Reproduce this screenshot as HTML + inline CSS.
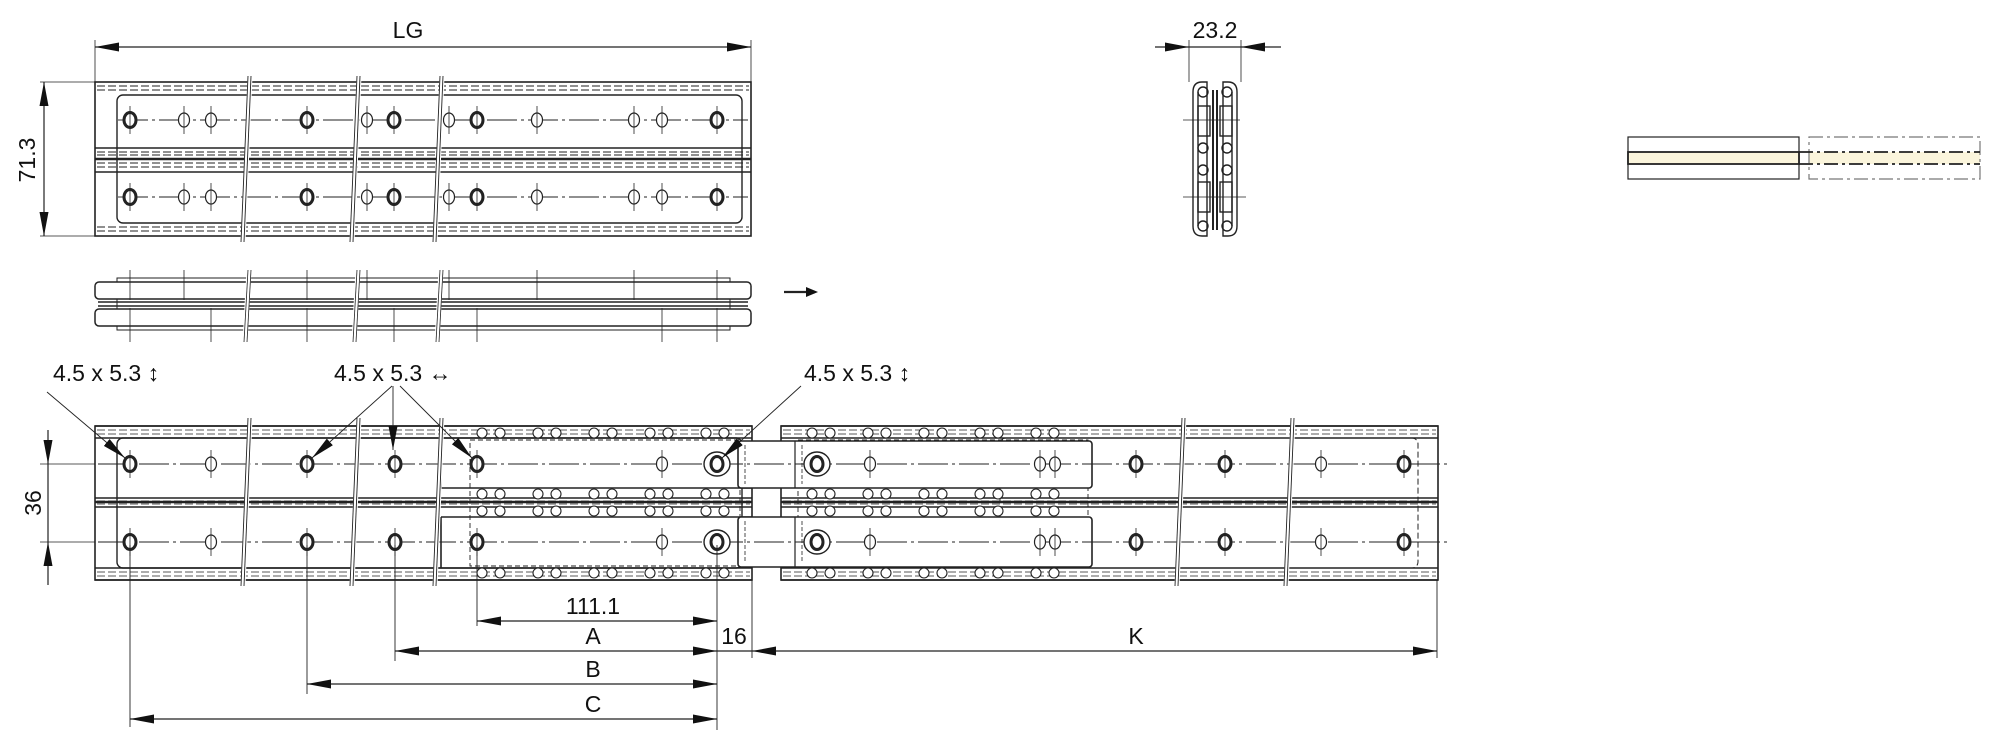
<!DOCTYPE html>
<html><head><meta charset="utf-8">
<style>
html,body{margin:0;padding:0;background:#fff;}
svg{display:block;}
text{font-family:"Liberation Sans",sans-serif;fill:#111;}
</style></head>
<body>
<svg id="s" width="2000" height="750" viewBox="0 0 2000 750" xmlns="http://www.w3.org/2000/svg" stroke="#222" fill="none" stroke-width="1.2">
<defs>
<marker id="ar" viewBox="0 0 24 9" refX="24" refY="4.5" markerWidth="24" markerHeight="9" markerUnits="userSpaceOnUse" orient="auto-start-reverse"><path d="M0,0 L24,4.5 L0,9 z" fill="#111" stroke="none"/></marker>
</defs>

<!-- ===== TOP VIEW ===== -->
<line x1="95" y1="47" x2="751" y2="47" marker-start="url(#ar)" marker-end="url(#ar)"/>
<line x1="95" y1="40" x2="95" y2="82" stroke-width="0.8"/>
<line x1="751" y1="40" x2="751" y2="82" stroke-width="0.8"/>
<text x="408" y="38" font-size="23" text-anchor="middle" stroke="none">LG</text>

<line x1="44" y1="82" x2="44" y2="236" marker-start="url(#ar)" marker-end="url(#ar)"/>
<line x1="40" y1="82" x2="95" y2="82" stroke-width="0.8"/>
<line x1="40" y1="236" x2="95" y2="236" stroke-width="0.8"/>
<text x="0" y="0" font-size="23" text-anchor="middle" stroke="none" transform="translate(35,160) rotate(-90)">71.3</text>

<g id="top">
<rect x="95" y="82" width="656" height="154" stroke-width="1.6"/>
<rect x="117" y="95" width="625" height="128" rx="6" stroke-width="1.4"/>
<line x1="95" y1="148" x2="751" y2="148" stroke-width="1.6"/>
<line x1="95" y1="172" x2="751" y2="172" stroke-width="1.6"/>
<line x1="95" y1="159" x2="751" y2="159" stroke-width="2.5"/>
<g stroke-dasharray="8,3" stroke-width="0.9">
<line x1="97" y1="86" x2="749" y2="86"/><line x1="97" y1="90" x2="749" y2="90"/>
<line x1="97" y1="152" x2="749" y2="152"/><line x1="97" y1="155" x2="749" y2="155"/>
<line x1="97" y1="163" x2="749" y2="163"/><line x1="97" y1="167" x2="749" y2="167"/>
<line x1="97" y1="227" x2="749" y2="227"/><line x1="97" y1="231" x2="749" y2="231"/>
</g>
<g stroke-dasharray="30,4,3,4" stroke-width="0.9">
<line x1="118" y1="120" x2="748" y2="120"/><line x1="118" y1="197" x2="748" y2="197"/>
</g>
</g>
<g id="tholes"></g>

<!-- side view -->
<g>
<rect x="117" y="278" width="613" height="52" stroke-width="1"/>
<rect x="95" y="282" width="656" height="17" rx="4" stroke-width="1.5" fill="#fff"/>
<rect x="95" y="309" width="656" height="17" rx="4" stroke-width="1.5" fill="#fff"/>
<line x1="98" y1="302" x2="748" y2="302" stroke-width="1.5"/>
<line x1="98" y1="306" x2="748" y2="306" stroke-width="1.5"/>
</g>
<g id="sticks" stroke-width="0.8"></g>
<line x1="784" y1="292" x2="815" y2="292" stroke-width="2.2"/>
<path d="M806,287 L818,292 L806,297z" fill="#111" stroke="none"/>

<!-- cross section -->
<line x1="1155" y1="47" x2="1189" y2="47" marker-end="url(#ar)"/>
<line x1="1281" y1="47" x2="1241" y2="47" marker-end="url(#ar)"/>
<line x1="1189" y1="47" x2="1241" y2="47"/>
<line x1="1189" y1="40" x2="1189" y2="82" stroke-width="0.8"/>
<line x1="1241" y1="40" x2="1241" y2="82" stroke-width="0.8"/>
<text x="1215" y="38" font-size="23" text-anchor="middle" stroke="none">23.2</text>
<g stroke-width="1.4">
<path d="M1193,92 Q1193,82 1202,82 L1207,82 L1207,236 L1202,236 Q1193,236 1193,226 Z"/>
<path d="M1237,92 Q1237,82 1228,82 L1223,82 L1223,236 L1228,236 Q1237,236 1237,226 Z"/>
<path d="M1198,92 L1198,226 M1232,92 L1232,226"/>
<line x1="1213" y1="90" x2="1213" y2="230" stroke-width="2"/>
<line x1="1217" y1="90" x2="1217" y2="230" stroke-width="2"/>
<circle cx="1203" cy="92" r="5"/><circle cx="1227" cy="92" r="5"/>
<circle cx="1203" cy="148" r="5"/><circle cx="1227" cy="148" r="5"/>
<circle cx="1203" cy="170" r="5"/><circle cx="1227" cy="170" r="5"/>
<circle cx="1203" cy="226" r="5"/><circle cx="1227" cy="226" r="5"/>
<rect x="1198" y="106" width="12" height="30"/><rect x="1220" y="106" width="12" height="30"/>
<rect x="1198" y="182" width="12" height="30"/><rect x="1220" y="182" width="12" height="30"/>
</g>
<line x1="1183" y1="120" x2="1240" y2="120" stroke-width="0.8"/>
<line x1="1183" y1="197" x2="1246" y2="197" stroke-width="0.8"/>

<!-- swatch -->
<rect x="1628" y="137" width="171" height="42" stroke-width="1.2"/>
<rect x="1628" y="152" width="171" height="12" fill="#fbf5dc" stroke-width="1.8"/>
<rect x="1809" y="152" width="171" height="12" fill="#fbf5dc" stroke="none"/>
<g stroke-dasharray="14,4,3,4" stroke-width="1.2">
<rect x="1809" y="137" width="171" height="42" stroke="#777"/>
<line x1="1799" y1="152" x2="1980" y2="152" stroke-width="1.8"/>
<line x1="1799" y1="164" x2="1980" y2="164" stroke-width="1.8"/>
</g>

<!-- ===== BOTTOM VIEW ===== -->
<g id="bot"></g>

<!-- labels -->
<text x="53" y="381" font-size="23" stroke="none">4.5 x 5.3 ↕</text>
<text x="334" y="381" font-size="23" stroke="none">4.5 x 5.3 ↔</text>
<text x="804" y="381" font-size="23" stroke="none">4.5 x 5.3 ↕</text>
<g stroke-width="0.9">
<line x1="47" y1="392" x2="125" y2="458" marker-end="url(#ar)"/>
<line x1="392" y1="386" x2="312" y2="458" marker-end="url(#ar)"/>
<line x1="393" y1="386" x2="393" y2="450" marker-end="url(#ar)"/>
<line x1="400" y1="386" x2="472" y2="458" marker-end="url(#ar)"/>
<line x1="801" y1="386" x2="722" y2="458" marker-end="url(#ar)"/>
</g>

<!-- dims -->
<line x1="48" y1="430" x2="48" y2="464" marker-end="url(#ar)"/>
<line x1="48" y1="585" x2="48" y2="542" marker-end="url(#ar)"/>
<line x1="48" y1="464" x2="48" y2="542"/>
<line x1="40" y1="464" x2="95" y2="464" stroke-width="0.8"/>
<line x1="40" y1="542" x2="95" y2="542" stroke-width="0.8"/>
<text font-size="23" text-anchor="middle" stroke="none" transform="translate(41,503) rotate(-90)">36</text>

<g stroke-width="0.9">
<line x1="130" y1="545" x2="130" y2="727"/>
<line x1="307" y1="545" x2="307" y2="694"/>
<line x1="395" y1="545" x2="395" y2="661"/>
<line x1="477" y1="545" x2="477" y2="626"/>
<line x1="717" y1="545" x2="717" y2="730"/>
<line x1="752" y1="580" x2="752" y2="658"/>
<line x1="1437" y1="580" x2="1437" y2="658"/>
</g>
<line x1="477" y1="621" x2="717" y2="621" marker-start="url(#ar)" marker-end="url(#ar)"/>
<line x1="395" y1="651" x2="717" y2="651" marker-start="url(#ar)" marker-end="url(#ar)"/>
<line x1="717" y1="651" x2="752" y2="651"/>
<line x1="752" y1="651" x2="1437" y2="651" marker-start="url(#ar)" marker-end="url(#ar)"/>
<line x1="307" y1="684" x2="717" y2="684" marker-start="url(#ar)" marker-end="url(#ar)"/>
<line x1="130" y1="719" x2="717" y2="719" marker-start="url(#ar)" marker-end="url(#ar)"/>
<g font-size="23" text-anchor="middle" stroke="none">
<text x="593" y="614" stroke="none">111.1</text>
<text x="593" y="644" stroke="none">A</text>
<text x="734" y="644" stroke="none">16</text>
<text x="1136" y="644" stroke="none">K</text>
<text x="593" y="677" stroke="none">B</text>
<text x="593" y="712" stroke="none">C</text>
</g>
</svg>
<script>
var NS="http://www.w3.org/2000/svg";
function el(p,t,a){var e=document.createElementNS(NS,t);for(var k in a)e.setAttribute(k,a[k]);p.appendChild(e);return e;}
var th=document.getElementById('tholes');
var hx=[[130,1],[184,0],[211,0],[307,1],[367,0],[394,1],[449,0],[477,1],[537,0],[634,0],[662,0],[717,1]];
[120,197].forEach(function(y){hx.forEach(function(h){
 el(th,'ellipse',{cx:h[0],cy:y,rx:h[1]?6:5.5,ry:h[1]?7.5:7,'stroke-width':h[1]?3:1.2,fill:'#fff'});
 el(th,'line',{x1:h[0],y1:y-14,x2:h[0],y2:y+14,'stroke-width':0.8});
});});
[248,357,440].forEach(function(x){
 el(th,'line',{x1:x+2,y1:76,x2:x-5,y2:242,stroke:'#fff','stroke-width':5});
 el(th,'line',{x1:x,y1:76,x2:x-7,y2:242,'stroke-width':0.9});
 el(th,'line',{x1:x+3,y1:76,x2:x-4,y2:242,'stroke-width':0.9});
});
var st=document.getElementById('sticks');
[130,184,307,367,449,537,634,717].forEach(function(x){el(st,'line',{x1:x,y1:270,x2:x,y2:300});});
[130,211,307,394,477,662,717].forEach(function(x){el(st,'line',{x1:x,y1:308,x2:x,y2:342});});
[248,357,440].forEach(function(x){
 el(st,'line',{x1:x+1,y1:270,x2:x-3,y2:342,stroke:'#fff','stroke-width':5});
 el(st,'line',{x1:x,y1:270,x2:x-4,y2:342});el(st,'line',{x1:x+3,y1:270,x2:x-1,y2:342});
});
var b=document.getElementById('bot');
function rail(x1,x2){
 el(b,'rect',{x:x1,y:426,width:x2-x1,height:154,'stroke-width':1.6,fill:'#fff'});
 [[426,438],[498,507],[568,580]].forEach(function(r){
  el(b,'line',{x1:x1,y1:r[0],x2:x2,y2:r[0],'stroke-width':1.4});
  el(b,'line',{x1:x1,y1:r[1],x2:x2,y2:r[1],'stroke-width':1.4});
  el(b,'line',{x1:x1+2,y1:(r[0]*2+r[1])/3,x2:x2-2,y2:(r[0]*2+r[1])/3,'stroke-width':0.8,'stroke-dasharray':'8,3'});
  el(b,'line',{x1:x1+2,y1:(r[0]+r[1]*2)/3,x2:x2-2,y2:(r[0]+r[1]*2)/3,'stroke-width':0.8,'stroke-dasharray':'8,3'});
 });
 el(b,'line',{x1:x1,y1:502,x2:x2,y2:502,'stroke-width':2.5});
}
rail(95,752);rail(781,1438);
el(b,'rect',{x:117,y:438,width:625,height:130,rx:6,'stroke-width':1.4});
el(b,'rect',{x:1000,y:438,width:418,height:130,rx:6,'stroke-width':1,'stroke-dasharray':'6,3'});
el(b,'path',{d:'M441,438 L441,488 L752,488 M441,517 L752,517 M441,517 L441,568','stroke-width':1.6});
el(b,'rect',{x:470,y:440,width:270,height:126,'stroke-dasharray':'5,3','stroke-width':0.9});
el(b,'rect',{x:798,y:440,width:290,height:126,'stroke-dasharray':'5,3','stroke-width':0.9});
[[441,488],[517,567]].forEach(function(r){
 el(b,'rect',{x:738,y:r[0],width:354,height:r[1]-r[0],rx:3,'stroke-width':1.6,fill:'#fff'});
 el(b,'line',{x1:795,y1:r[0],x2:795,y2:r[1],'stroke-width':1.2});
 el(b,'line',{x1:802,y1:r[0]+4,x2:802,y2:r[1]-4,'stroke-dasharray':'4,2','stroke-width':0.8});
 el(b,'line',{x1:745,y1:r[0]+4,x2:745,y2:r[1]-4,'stroke-dasharray':'4,2','stroke-width':0.8});
});
// ball retainers
[[482,742],[812,1070]].forEach(function(s){
 [433,494,511,573].forEach(function(y){
  for(var x=s[0];x<s[1];x+=56){
   el(b,'circle',{cx:x,cy:y,r:5,'stroke-width':1.1,fill:'#fff'});
   if(x+18<s[1]) el(b,'circle',{cx:x+18,cy:y,r:5,'stroke-width':1.1,fill:'#fff'});
  }
 });
});
[464,542].forEach(function(y){
 el(b,'line',{x1:98,y1:y,x2:1450,y2:y,'stroke-width':0.9,'stroke-dasharray':'30,4,3,4'});
});
var bh=[[130,1],[211,0],[307,1],[395,1],[477,1],[662,0],[1040,0],[1055,0],[870,0],[1136,1],[1225,1],[1321,0],[1404,1]];
[464,542].forEach(function(y){
 bh.forEach(function(h){
  el(b,'ellipse',{cx:h[0],cy:y,rx:h[1]?6:5.5,ry:h[1]?7.5:7,'stroke-width':h[1]?3:1.2,fill:'#fff'});
  el(b,'line',{x1:h[0],y1:y-14,x2:h[0],y2:y+14,'stroke-width':0.8});
 });
 [717,817].forEach(function(x){
  el(b,'ellipse',{cx:x,cy:y,rx:13,ry:12,'stroke-width':1.4,fill:'#fff'});
  el(b,'ellipse',{cx:x,cy:y,rx:6,ry:7.5,'stroke-width':3});
 });
});
[248,357,440,1182,1291].forEach(function(x){
 el(b,'line',{x1:x+2,y1:418,x2:x-5,y2:586,stroke:'#fff','stroke-width':5});
 el(b,'line',{x1:x,y1:418,x2:x-7,y2:586,'stroke-width':0.9});
 el(b,'line',{x1:x+3,y1:418,x2:x-4,y2:586,'stroke-width':0.9});
});
</script>
</body></html>
